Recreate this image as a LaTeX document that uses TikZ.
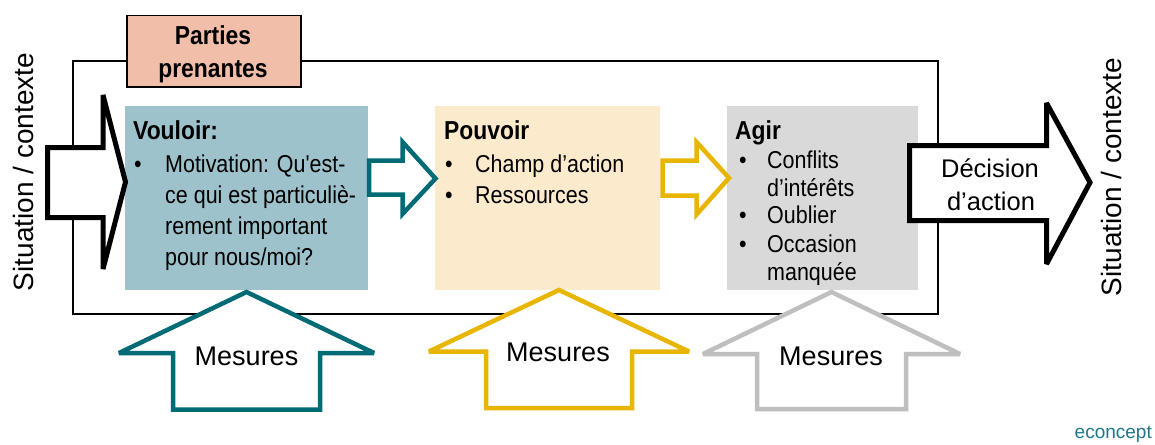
\documentclass[tikz,border=0pt]{standalone}
\usepackage{fontspec}
\setmainfont{Liberation Sans}
\newfontfamily\cond[FakeStretch=0.88,Ligatures=TeXOff]{Liberation Sans}
\definecolor{cV}{HTML}{9DC2CB}
\definecolor{cPo}{HTML}{FBEBCC}
\definecolor{cA}{HTML}{D9D9D9}
\definecolor{cPP}{HTML}{F1BEAA}
\definecolor{cTeal}{HTML}{006A75}
\definecolor{cYel}{HTML}{E8B500}
\definecolor{cGray}{HTML}{BFBFBF}
\definecolor{cEco}{HTML}{1F7887}
\tikzset{
  panel/.style={draw=none, anchor=north west, inner sep=0pt},
  body/.style={inner sep=0pt, anchor=base west, font=\cond\fontsize{24.4}{31}\selectfont},
  ttl/.style={inner sep=0pt, anchor=base west, font=\cond\bfseries\fontsize{26}{31}\selectfont},
  blockarrow/.style={fill=white, line join=miter, miter limit=3},
  blackarrow/.style={blockarrow, draw=black, line width=5pt},
  colarrow/.style={blockarrow, line width=4.5pt},
  big/.style={inner sep=0pt, anchor=base, font=\fontsize{27}{32}\selectfont},
}
\begin{document}
\begin{tikzpicture}[x=1pt,y=-1pt]
\useasboundingbox (0,0) rectangle (1155,444);
% frame
\node[draw=black, line width=1.5pt, anchor=north west, inner sep=0pt,
      minimum width=865pt, minimum height=253pt] (frame) at (72,60) {};
% stakeholders box
\node[draw=black, fill=cPP, line width=1.5pt, anchor=north west, inner sep=0pt,
      minimum width=174pt, minimum height=71pt] (pp) at (126,15) {};
\node[inner sep=0pt, anchor=base, font=\cond\bfseries\fontsize{26}{32}\selectfont] (pp1) at (213,45) {Parties};
\node[inner sep=0pt, anchor=base, font=\cond\bfseries\fontsize{26}{32}\selectfont] (pp2) at (213,77) {prenantes};
% panels
\node[panel, fill=cV, minimum width=243pt, minimum height=184pt] (vouloir) at (125,106) {};
\node[panel, fill=cPo, minimum width=225pt, minimum height=184pt] (pouvoir) at (435,106) {};
\node[panel, fill=cA, minimum width=191pt, minimum height=184pt] (agir) at (727,106) {};
% Vouloir text
\node[ttl] (vt) at (133,139) {Vouloir:};
\node[body] (vb1) at (134,172) {•};
\node[body] (v1) at (165,172) {Motivation: Qu'est-};
\node[body] (v2) at (165,203) {ce qui est particuliè-};
\node[body] (v3) at (165,234) {rement important};
\node[body] (v4) at (165,265) {pour nous/moi?};
% Pouvoir text
\node[ttl] (pt) at (444,139) {Pouvoir};
\node[body] (pb1) at (445,172) {•};
\node[body] (p1) at (475,172) {Champ d’action};
\node[body] (pb2) at (445,203) {•};
\node[body] (p2) at (475,203) {Ressources};
% Agir text
\node[ttl] (at) at (735,139) {Agir};
\node[body] (ab1) at (739,168) {•};
\node[body] (a1) at (767,168) {Conflits};
\node[body] (a2) at (767,196) {d’intérêts};
\node[body] (ab2) at (739,223) {•};
\node[body] (a3) at (767,223) {Oublier};
\node[body] (ab3) at (739,252) {•};
\node[body] (a4) at (767,252) {Occasion};
\node[body] (a5) at (767,280) {manquée};
% left black arrow
\draw[blackarrow] (47.5,147.5) -- (103,147.5) -- (103,95) -- (125.5,182)
  -- (103,269) -- (103,217.5) -- (47.5,217.5) -- cycle;
% teal arrow
\draw[colarrow, draw=cTeal] (369,160.5) -- (402.5,160.5) -- (402.5,142) -- (435.5,178.5)
  -- (402.5,214) -- (402.5,194.5) -- (369,194.5) -- cycle;
% yellow arrow
\draw[colarrow, draw=cYel] (662.5,160.5) -- (696.5,160.5) -- (696.5,142) -- (729,178)
  -- (696.5,214.5) -- (696.5,195.5) -- (662.5,195.5) -- cycle;
% right black arrow
\draw[blackarrow] (909.5,145.5) -- (1046.5,145.5) -- (1046.5,103) -- (1090,182.5)
  -- (1046.5,264) -- (1046.5,220.5) -- (909.5,220.5) -- cycle;
\node[inner sep=0pt, anchor=base, font=\fontsize{25.5}{32}\selectfont] (d1) at (990,177) {Décision};
\node[inner sep=0pt, anchor=base, font=\fontsize{25.5}{32}\selectfont] (d2) at (991,210) {d’action};
% up arrows
\draw[colarrow, draw=cTeal] (246.5,292) -- (374,353) -- (320,353) -- (320,409.5)
  -- (173,409.5) -- (173,353) -- (119,353) -- cycle;
\draw[colarrow, draw=cYel] (559,290) -- (689,351.5) -- (632,351.5) -- (632,408)
  -- (486,408) -- (486,351.5) -- (429,351.5) -- cycle;
\draw[colarrow, draw=cGray] (831.5,292) -- (960,354) -- (906,354) -- (906,409)
  -- (757,409) -- (757,354) -- (703,354) -- cycle;
\node[big] (m1) at (246.5,365) {Mesures};
\node[big] (m2) at (558,361) {Mesures};
\node[big] (m3) at (831,365) {Mesures};
% side labels
\node[inner sep=0pt, anchor=base, rotate=90, font=\fontsize{28}{32}\selectfont] (sl) at (33,172) {Situation / contexte};
\node[inner sep=0pt, anchor=base, rotate=90, font=\fontsize{28}{32}\selectfont] (sr) at (1121,177) {Situation / contexte};
% logo
\node[inner sep=0pt, anchor=base east, text=cEco, font=\fontsize{19}{24}\selectfont] (logo) at (1152,438.5) {econcept};
\end{tikzpicture}
\end{document}
